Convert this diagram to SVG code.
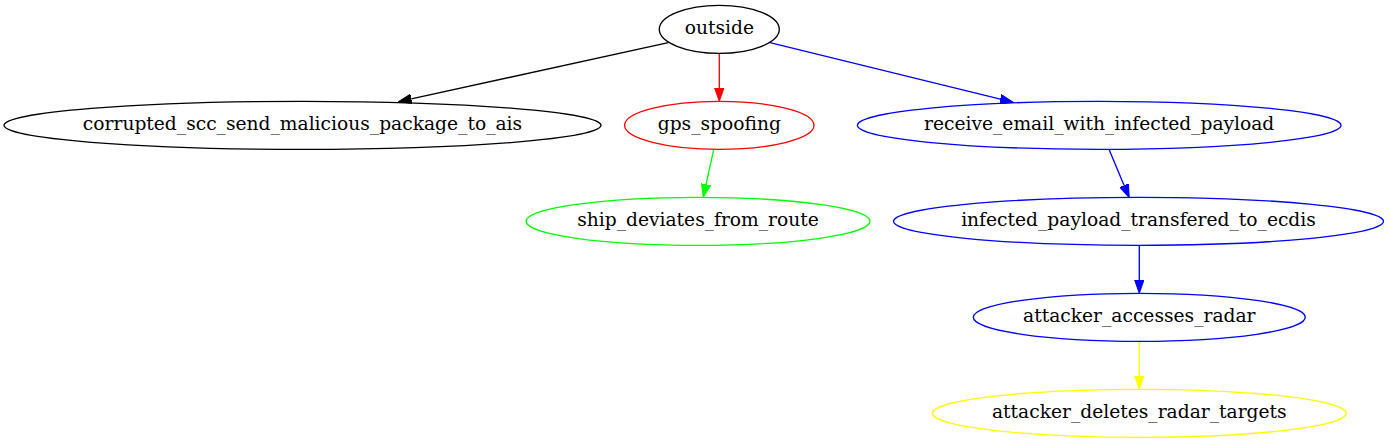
<svg xmlns="http://www.w3.org/2000/svg" width="1390" height="443" viewBox="0 0 1390 443">
<style>
  .n ellipse { fill: none; stroke-width: 1.33; }
  .n text { font-family: "DejaVu Serif", serif; font-size: 18.67px; text-anchor: middle; fill: #000; }
  .e line { stroke-width: 1.33; fill: none; }
</style>
<defs>
  <marker id="ak" markerUnits="userSpaceOnUse" markerWidth="14" markerHeight="10" refX="0" refY="4.67" orient="auto" viewBox="0 0 14 9.34"><path d="M0,0 L13.33,4.67 L0,9.34 Z" fill="#000" stroke="#000" stroke-width="1"/></marker>
  <marker id="ar" markerUnits="userSpaceOnUse" markerWidth="14" markerHeight="10" refX="0" refY="4.67" orient="auto" viewBox="0 0 14 9.34"><path d="M0,0 L13.33,4.67 L0,9.34 Z" fill="#ff0000" stroke="#ff0000" stroke-width="1"/></marker>
  <marker id="ab" markerUnits="userSpaceOnUse" markerWidth="14" markerHeight="10" refX="0" refY="4.67" orient="auto" viewBox="0 0 14 9.34"><path d="M0,0 L13.33,4.67 L0,9.34 Z" fill="#0000ff" stroke="#0000ff" stroke-width="1"/></marker>
  <marker id="ag" markerUnits="userSpaceOnUse" markerWidth="14" markerHeight="10" refX="0" refY="4.67" orient="auto" viewBox="0 0 14 9.34"><path d="M0,0 L13.33,4.67 L0,9.34 Z" fill="#00ff00" stroke="#00ff00" stroke-width="1"/></marker>
  <marker id="ay" markerUnits="userSpaceOnUse" markerWidth="14" markerHeight="10" refX="0" refY="4.67" orient="auto" viewBox="0 0 14 9.34"><path d="M0,0 L13.33,4.67 L0,9.34 Z" fill="#ffff00" stroke="#ffff00" stroke-width="1"/></marker>
</defs>
<rect width="1390" height="443" fill="#fff"/>
<g id="connectors" class="e">
  <line x1="668.3" y1="42.7" x2="411.3" y2="98.85" stroke="#000" marker-end="url(#ak)"/>
  <line x1="719.3" y1="53.3" x2="719.3" y2="88" stroke="#ff0000" marker-end="url(#ar)"/>
  <line x1="770" y1="42.7" x2="1000.35" y2="99.13" stroke="#0000ff" marker-end="url(#ab)"/>
  <line x1="713.7" y1="149.3" x2="706.1" y2="184.3" stroke="#00ff00" marker-end="url(#ag)"/>
  <line x1="1109.3" y1="150" x2="1124.1" y2="185.4" stroke="#0000ff" marker-end="url(#ab)"/>
  <line x1="1139.3" y1="245.3" x2="1139.3" y2="280" stroke="#0000ff" marker-end="url(#ab)"/>
  <line x1="1139.3" y1="341.3" x2="1139.3" y2="376" stroke="#ffff00" marker-end="url(#ay)"/>
</g>
<g id="outside" class="n">
  <ellipse cx="719.3" cy="29.33" rx="60" ry="24" stroke="#000"/>
  <text x="719.3" y="34.4">outside</text>
</g>
<g id="corrupted_scc_send_malicious_package_to_ais" class="n">
  <ellipse cx="302.5" cy="125.33" rx="298.5" ry="24" stroke="#000"/>
  <text x="302.5" y="130.4">corrupted_scc_send_malicious_package_to_ais</text>
</g>
<g id="gps_spoofing" class="n">
  <ellipse cx="719.3" cy="125.33" rx="94.7" ry="24" stroke="#ff0000"/>
  <text x="719.3" y="130.4">gps_spoofing</text>
</g>
<g id="receive_email_with_infected_payload" class="n">
  <ellipse cx="1099.2" cy="125.33" rx="241.8" ry="24" stroke="#0000ff"/>
  <text x="1099.2" y="130.4">receive_email_with_infected_payload</text>
</g>
<g id="ship_deviates_from_route" class="n">
  <ellipse cx="698" cy="221.33" rx="172" ry="24" stroke="#00ff00"/>
  <text x="698" y="226.4">ship_deviates_from_route</text>
</g>
<g id="infected_payload_transfered_to_ecdis" class="n">
  <ellipse cx="1138.5" cy="221.33" rx="245" ry="24" stroke="#0000ff"/>
  <text x="1138.5" y="226.4">infected_payload_transfered_to_ecdis</text>
</g>
<g id="attacker_accesses_radar" class="n">
  <ellipse cx="1139.3" cy="317.33" rx="166" ry="24" stroke="#0000ff"/>
  <text x="1139.3" y="322.4">attacker_accesses_radar</text>
</g>
<g id="attacker_deletes_radar_targets" class="n">
  <ellipse cx="1139.3" cy="413.33" rx="207" ry="24" stroke="#ffff00"/>
  <text x="1139.3" y="418.4">attacker_deletes_radar_targets</text>
</g>
</svg>
